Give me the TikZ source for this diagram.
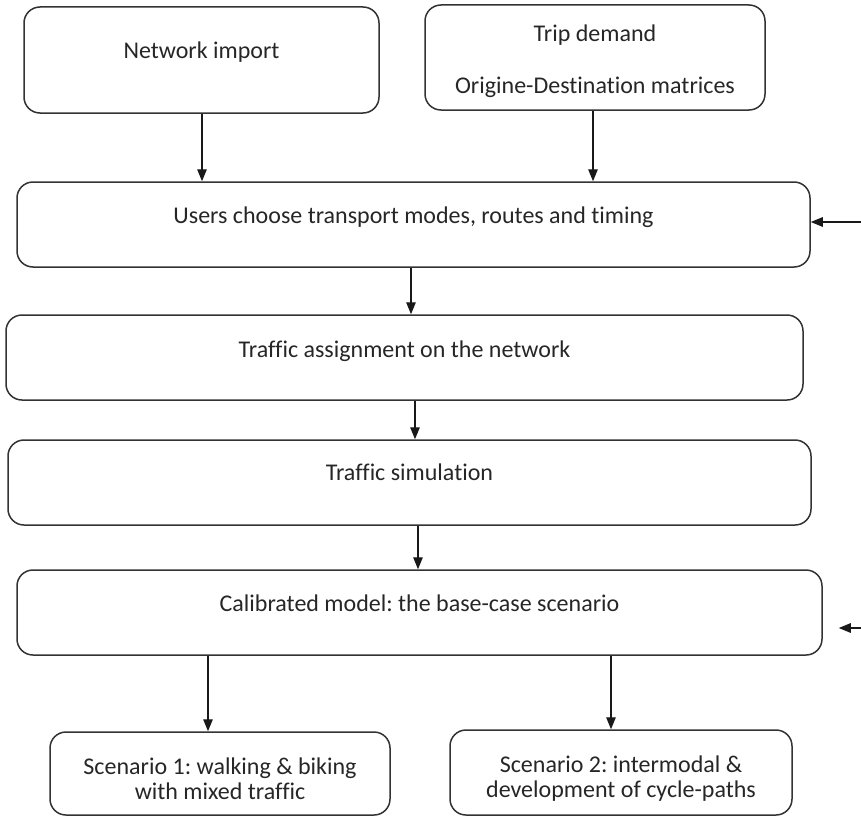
\documentclass[tikz,border=0pt]{standalone}
\usepackage{fontspec}
\setmainfont{Carlito}[Ligatures=NoCommon]
\usetikzlibrary{arrows.meta,positioning}
\frenchspacing

\begin{document}
\begin{tikzpicture}[x=1pt,y=-1pt,>={Triangle[length=12pt,width=9.5pt]},
	every node/.style={font=\fontsize{24}{25}\selectfont,text=black!85},
	block/.style={draw=black!80,line width=1.5pt,rounded corners=16pt,align=center,inner sep=0pt},
	flow/.style={->,line width=1.3pt,color=black!90}]
	\useasboundingbox (0,0) rectangle (861,816);

	\node[block,minimum width=355pt,minimum height=106pt,text height=18pt,text depth=21pt] (net) at (201.5,60) {Network import};
	\node[block,minimum width=340pt,minimum height=105pt] (trip) at (595,57.5) {\rule{0pt}{25pt}Trip demand\\[27pt]Origine-Destination matrices};

	\node[block,minimum width=793pt,minimum height=85pt,text height=18pt,text depth=20pt] (users) at (413.5,224.5) {Users choose transport modes, routes and timing};
	\node[block,minimum width=797pt,minimum height=85pt,text height=18pt,text depth=18pt] (assign) at (404.5,357.5) {Traffic assignment on the network};
	\node[block,minimum width=803pt,minimum height=85pt,text height=18pt,text depth=22pt] (sim) at (409.5,482.5) {Traffic simulation};
	\node[block,minimum width=805pt,minimum height=85pt,text height=18pt,text depth=20pt] (cal) at (419.5,612.5) {Calibrated model: the base-case scenario};

	\node[block,minimum width=340pt,minimum height=83pt] (sc1) at (220,773.5) {\rule{0pt}{28pt}Scenario 1: walking \& biking\\with mixed traffic};
	\node[block,minimum width=342pt,minimum height=85pt] (sc2) at (621,772.5) {\rule{0pt}{28pt}Scenario 2: intermodal \&\\development of cycle-paths};

	\coordinate (fb1) at (861,222);
	\coordinate (fb2) at (861,628);

	\path[flow]
	([xshift=0.5pt]net.south) edge ([xshift=0.5pt]net.south |- users.north)
	([xshift=-2pt]trip.south) edge ([xshift=-2pt]trip.south |- users.north)

	([xshift=-2.5pt]users.south) edge ([xshift=-2.5pt]users.south |- assign.north)
	([xshift=10.5pt]assign.south) edge ([xshift=10.5pt]assign.south |- sim.north)
	([xshift=8.5pt]sim.south) edge ([xshift=8.5pt]sim.south |- cal.north)

	([xshift=-211.5pt]cal.south) edge ([xshift=-211.5pt]cal.south |- sc1.north)
	([xshift=191.5pt]cal.south) edge ([xshift=191.5pt]cal.south |- sc2.north)

	(fb1) edge (fb1 -| users.east)
	(fb2) edge ([xshift=16pt]fb2 -| cal.east)
	;
\end{tikzpicture}
\end{document}
